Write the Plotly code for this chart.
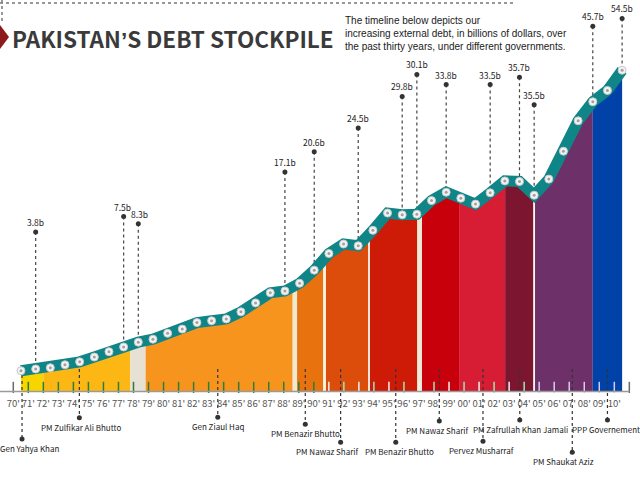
import numpy as np
import plotly.graph_objects as go

# ---------------- data ----------------
years = list(range(1970, 2012))
debt = [3.5, 3.8, 4.0, 4.5, 5.0, 5.8, 6.7, 7.5, 8.3, 8.8, 9.8, 10.5, 11.6, 11.9,
        12.2, 13.4, 14.9, 16.6, 16.9, 18.2, 20.4, 23.2, 24.8, 24.5, 27.1, 30.0,
        29.7, 29.8, 32.1, 33.5, 32.5, 31.5, 33.4, 35.4, 35.3, 33.0, 35.7, 40.4,
        45.5, 48.7, 50.6, 54.0]

# value call-outs
callout_years = [1971, 1977, 1978, 1988, 1990, 1993, 1996, 1997, 1999, 2002, 2004, 2005, 2009, 2011]
callout_texts = ["3.8b", "7.5b", "8.3b", "17.1b", "20.6b", "24.5b", "29.8b", "30.1b",
                 "33.8b", "33.5b", "35.7b", "35.5b", "45.7b", "54.5b"]
callout_levels = [26.8, 29.4, 28.2, 36.9, 40.3, 44.3, 49.6, 53.3, 51.6, 51.6, 52.8, 48.2, 61.4, 62.7]
callout_shift = [0, -1.5, 1.5, 0, 0, 0, 0, 0, 0, 0, 0, 0, 0, 0]

# government periods (boundaries in years, fill colours)
period_edges = [1970, 1971.52, 1977.44, 1978.5, 1988.53, 1988.83, 1990.62, 1990.8,
                1993.69, 1993.8, 1997.03, 1997.35, 1999.88, 2003.02, 2004.95, 2005.06,
                2009.0, 2011]
period_colors = ["#F9D500", "#FDB714", "#E6E1D3", "#F7941E", "#EFE9D2", "#E8730E",
                 "#F6F2E4", "#DC4C0B", "#F8F6EE", "#CE1B07", "#EFEAD5", "#C8000C",
                 "#D71D33", "#7B1530", "#F8F6F0", "#6D3068", "#0042A8"]

# government labels
gov_names = ["Gen Yahya Khan", "PM Zulfikar Ali Bhutto", "Gen Ziaul Haq", "PM Benazir Bhutto",
             "PM Nawaz Sharif", "PM Benazir Bhutto", "PM Nawaz Sharif", "Pervez Musharraf",
             "PM Zafrullah Khan Jamali", "PM Shaukat Aziz", "PPP Governement"]
gov_years = [1970.07, 1973.98, 1983.42, 1989.39, 1991.8, 1995.56, 1998.53, 2001.51,
             2004.02, 2007.6, 2010.0]
gov_levels = [-7.97, -4.39, -4.32, -5.5, -8.52, -8.52, -4.94, -8.35, -4.77, -10.2, -4.77]
gov_text_shift = [7, 2, 0, 0, -14, 4, -2, -1, 1, -9, -1]

tick_years = list(range(1969, 2012))
label_years = list(range(1970, 2011))
label_texts = ["%02d'" % (y % 100) for y in label_years]

# ---------------- style ----------------
FONT = "Noto Sans CJK SC, Liberation Sans, sans-serif"
DESC_FONT = "Liberation Sans, Arial, sans-serif"
TEAL = "#0F8588"
W, H = 640, 480
X_RANGE = [1968.567, 2012.22]
X2_RANGE = [1969.115, 2011.71]
Y_RANGE = [-14.86, 65.8]


def tick_color(y):
    if y <= 1970 or y >= 2011:
        return "#6a6a6a"
    if y <= 1990:
        return "#2A7D3C"
    if y >= 2005:
        return "#D8CCE8"
    return "#9BE7B4" if y % 2 == 0 else "#F2F2F2"


fig = go.Figure()

# coloured areas
for i, col in enumerate(period_colors):
    a, b = period_edges[i], period_edges[i + 1]
    inner = [y for y in years if a < y < b]
    xs = [a] + inner + [b]
    ys = list(np.interp(xs, years, debt))
    fig.add_trace(go.Scatter(
        x=[a] + xs + [b], y=[0] + ys + [0], mode="lines", fill="toself",
        fillcolor=col, line=dict(width=0), hoverinfo="skip"))

# dotted leader lines for government labels
gx, gy = [], []
for x, lv in zip(gov_years, gov_levels):
    gx += [x, x, None]
    gy += [3.8, lv, None]
fig.add_trace(go.Scatter(x=gx, y=gy, mode="lines",
                         line=dict(color="#333333", width=1.2, dash="dot"), hoverinfo="skip"))

# dotted leader lines for value call-outs
cx, cy = [], []
for x, lv in zip(callout_years, callout_levels):
    cx += [x, x, None]
    cy += [lv, debt[years.index(x)], None]
fig.add_trace(go.Scatter(x=cx, y=cy, mode="lines",
                         line=dict(color="#444444", width=1.2, dash="dot"), hoverinfo="skip"))

# axis ticks (coloured)
fig.add_trace(go.Scatter(
    x=tick_years, y=[0.7] * len(tick_years), xaxis="x2", yaxis="y", mode="markers",
    marker=dict(symbol="line-ns", size=8,
                line=dict(color=[tick_color(y) for y in tick_years], width=1.5)),
    hoverinfo="skip"))

# teal band
fig.add_trace(go.Scatter(x=years, y=debt, mode="lines",
                         line=dict(color=TEAL, width=11), hoverinfo="skip"))
# beads
fig.add_trace(go.Scatter(x=years, y=debt, mode="markers",
                         marker=dict(size=8, color="#F3F3F3", line=dict(color="#C8C8C8", width=1)),
                         hoverinfo="skip"))
fig.add_trace(go.Scatter(x=years, y=debt, mode="markers",
                         marker=dict(size=3, color="#A0A0A0"), hoverinfo="skip"))

# call-out dots
fig.add_trace(go.Scatter(x=callout_years, y=callout_levels, mode="markers",
                         marker=dict(size=5, color="#333333"), hoverinfo="skip"))
fig.add_trace(go.Scatter(x=gov_years, y=gov_levels, mode="markers",
                         marker=dict(size=5, color="#333333"), hoverinfo="skip"))

annotations = []
for x, lv, t, s in zip(callout_years, callout_levels, callout_texts, callout_shift):
    annotations.append(dict(x=x, y=lv, xref="x", yref="y", text=t, showarrow=False,
                            yanchor="bottom", yshift=2, xshift=s,
                            font=dict(family=FONT, size=8.5, color="#222222")))
for x, lv, t, s in zip(gov_years, gov_levels, gov_names, gov_text_shift):
    annotations.append(dict(x=x, y=lv, xref="x", yref="y", text=t, showarrow=False,
                            yanchor="middle", yshift=-9.5, xshift=s,
                            font=dict(family=FONT, size=8, color="#222222")))


def px(v):
    return v / W


def py(v):
    return 1 - v / H


title_html = ("PAKISTAN<span style='font-family:Liberation Sans'>’</span>S DEBT STOCKPILE")
annotations.append(dict(x=px(10), y=py(37.5), xref="paper", yref="paper",
                        text=title_html, showarrow=False,
                        xanchor="left", yanchor="middle",
                        font=dict(family=FONT, size=22.5, color="#3A3A3A", weight="bold")))
desc = ["The timeline below depicts our",
        "increasing external debt, in billions of dollars, over",
        "the past thirty years, under different governments."]
annotations.append(dict(x=px(343), y=py(33.5), xref="paper", yref="paper",
                        text="<br>".join(desc), showarrow=False, xanchor="left",
                        yanchor="middle", align="left",
                        font=dict(family=DESC_FONT, size=10, color="#1A1A1A")))

shapes = [
    dict(type="line", xref="x2", yref="y", x0=tick_years[0], x1=tick_years[-1], y0=0, y1=0,
         line=dict(color="#9A9A9A", width=1.5)),
    dict(type="line", xref="paper", yref="paper", x0=0, x1=px(515), y0=py(3), y1=py(3),
         line=dict(color="#777777", width=1.5, dash="dot")),
    dict(type="line", xref="paper", yref="paper", x0=px(2), x1=px(2), y0=py(0), y1=py(24),
         line=dict(color="#777777", width=1.5, dash="dot")),
    dict(type="path", xref="paper", yref="paper",
         path="M %f %f L %f %f L %f %f Z" % (px(0), py(25), px(9), py(37), px(0), py(49)),
         fillcolor="#8C1A1A", line=dict(width=0)),
]

axis_pos = (0 - Y_RANGE[0]) / (Y_RANGE[1] - Y_RANGE[0])

fig.update_layout(
    width=W, height=H, margin=dict(l=0, r=0, t=0, b=0),
    paper_bgcolor="white", plot_bgcolor="white", showlegend=False,
    xaxis=dict(range=X_RANGE, visible=False, fixedrange=True),
    xaxis2=dict(range=X2_RANGE, overlaying="x", anchor="free", position=axis_pos,
                side="bottom", tickvals=label_years, ticktext=label_texts, ticks="",
                showgrid=False, zeroline=False, showline=False, fixedrange=True,
                tickangle=0, ticklabelstandoff=5,
                tickfont=dict(family=FONT, size=9.5, color="#555555")),
    yaxis=dict(range=Y_RANGE, visible=False, fixedrange=True),
    annotations=annotations, shapes=shapes,
)

fig.write_html("out.html", config={"displayModeBar": False},
               post_script="document.body.style.margin='0px';")
